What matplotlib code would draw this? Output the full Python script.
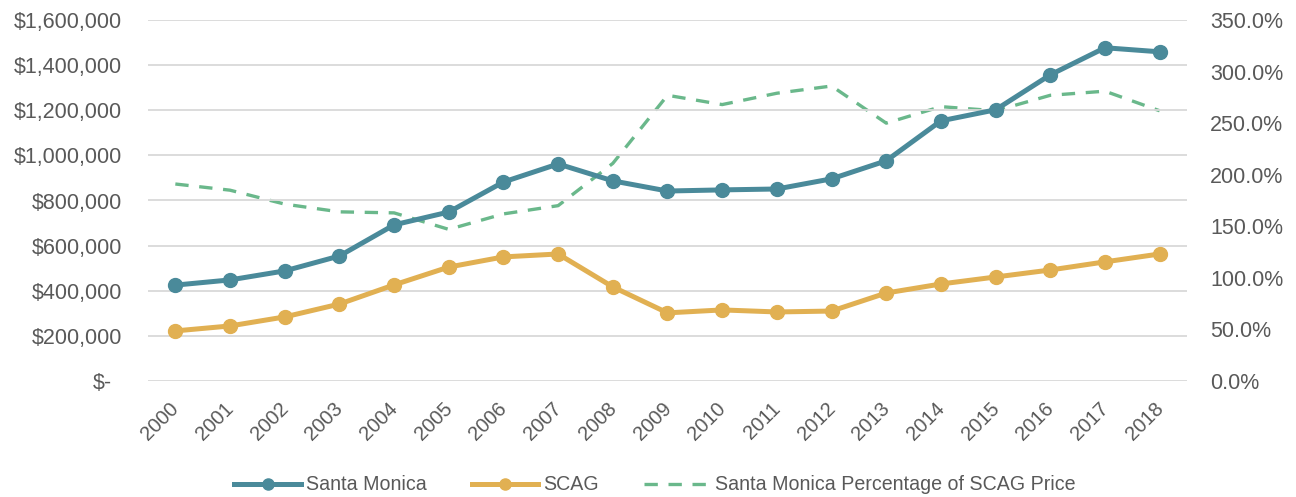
import matplotlib
matplotlib.use("Agg")
import matplotlib.pyplot as plt
from matplotlib.ticker import FuncFormatter, MultipleLocator
from matplotlib.lines import Line2D
import matplotlib.transforms as mtrans

years = [str(y) for y in range(2000, 2019)]
santa_monica = [425000, 448000, 488000, 554000, 692000, 749000, 882000, 962000, 887000,
                842000, 847000, 851000, 896000, 976000, 1153000, 1202000, 1357000, 1477000, 1459000]
scag = [222000, 244000, 284000, 341000, 426000, 505000, 550000, 563000, 417000,
        302000, 315000, 306000, 310000, 390000, 430000, 461000, 492000, 528000, 563000]
pct_of_scag = [191, 185, 171.5, 164, 163, 147, 162, 170, 211,
               277, 268, 279, 286, 250, 266, 262, 277, 281, 262]

TEAL = "#4a8a9a"
GOLD = "#e1b052"
GREEN = "#6ab88b"
TXT = "#595959"
GRID = "#d9d9d9"

plt.rcParams['font.family'] = ['Liberation Sans', 'DejaVu Sans']

fig = plt.figure(figsize=(12.96, 4.97), dpi=100)
ax = fig.add_axes([148/1296, 1-381/497, (1187-148)/1296, (381-20)/497])
ax2 = ax.twinx()

x = list(range(len(years)))
ax.plot(x, santa_monica, color=TEAL, lw=3.6, marker='o', ms=10, label='Santa Monica', zorder=3)
ax.plot(x, scag, color=GOLD, lw=3.6, marker='o', ms=10, label='SCAG', zorder=3)
ax2.plot(x, pct_of_scag, color=GREEN, lw=2.4, dashes=(4, 3.2),
         label='Santa Monica Percentage of SCAG Price')

ax.set_xlim(-0.5, len(years) - 0.5)
ax.set_ylim(0, 1600000)
ax2.set_ylim(0, 350)
ax.yaxis.set_major_locator(MultipleLocator(200000))
ax2.yaxis.set_major_locator(MultipleLocator(50))

def money(v, p):
    if v == 0:
        return "$-"
    return "${:,.0f}".format(v)

ax.yaxis.set_major_formatter(FuncFormatter(money))
ax2.yaxis.set_major_formatter(FuncFormatter(lambda v, p: "{:.1f}%".format(v)))

ax.set_xticks(x)
ax.set_xticklabels(years, rotation=45, ha='right', rotation_mode='anchor')

for a in (ax, ax2):
    for s in a.spines.values():
        s.set_visible(False)
    a.tick_params(length=0, labelsize=15.5, colors=TXT)
ax.tick_params(axis='x', labelsize=14.5, pad=10)
ax.tick_params(axis='y', pad=18.5)
ax2.tick_params(axis='y', pad=16.5)

fig.canvas.draw()
for lab in ax.get_xticklabels():
    lab.set_transform(lab.get_transform() + mtrans.ScaledTranslation(-6/100, -4/100, fig.dpi_scale_trans))
for t in ax.yaxis.get_major_ticks():
    if abs(t.get_loc()) < 1e-6:
        t.label1.set_transform(t.label1.get_transform() + mtrans.ScaledTranslation(-10/100, 0, fig.dpi_scale_trans))

ax.grid(axis='y', color=GRID, lw=1.3)
ax.set_axisbelow(True)
ax.set_zorder(ax2.get_zorder() + 1)
ax.patch.set_visible(False)

handles = [
    Line2D([], [], color=TEAL, lw=3.6, marker='o', ms=8),
    Line2D([], [], color=GOLD, lw=3.6, marker='o', ms=8),
    Line2D([], [], color=GREEN, lw=2.4, dashes=(4, 3.2)),
]
labels = ['Santa Monica', 'SCAG', 'Santa Monica Percentage of SCAG Price']
fig.legend(handles, labels, loc='center', bbox_to_anchor=(655/1296, 1-485/497),
           ncol=3, frameon=False, fontsize=14.1, labelcolor=TXT,
           handlelength=3.4, handletextpad=0.25, columnspacing=2.3)

fig.savefig("out.png", dpi=100)
